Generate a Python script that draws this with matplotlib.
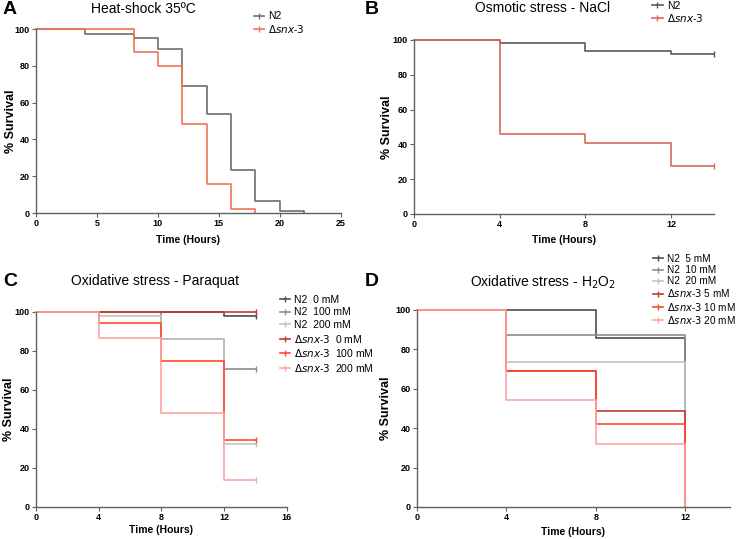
import matplotlib.pyplot as plt

plt.rcParams['font.family'] = ['Liberation Sans', 'DejaVu Sans']

# ---- data ----
# A: heat shock
a_n2_t = [0, 4, 8, 10, 12, 14, 16, 18, 20, 22]
a_n2_s = [100, 97.6, 95, 89.2, 69, 54, 23.2, 6.8, 1.1, 0]
a_snx_t = [0, 8, 10, 12, 14, 16, 18]
a_snx_s = [100, 87.7, 80, 48.6, 15.7, 2.2, 0]

# B: osmotic stress
b_n2_t = [0, 4, 8, 12, 14]
b_n2_s = [100, 98.3, 93.7, 92.2, 92.2]
b_snx_t = [0, 4, 8, 12, 14]
b_snx_s = [100, 45.7, 41, 27.8, 27.8]

# C: paraquat
c_labels = ['N2  0 mM', 'N2  100 mM', 'N2  200 mM',
            r'$\Delta\mathit{snx}$-$\mathit{3}$  0 mM',
            r'$\Delta\mathit{snx}$-$\mathit{3}$  100 mM',
            r'$\Delta\mathit{snx}$-$\mathit{3}$  200 mM']
c_t = [[0, 12, 14], [0, 8, 12, 14], [0, 4, 8, 12, 14],
       [0, 14], [0, 4, 8, 12, 14], [0, 4, 8, 12, 14]]
c_s = [[100, 98.1, 98.1], [100, 86.3, 70.9, 70.9], [100, 98, 86.3, 32.5, 32.5],
       [100, 100], [100, 94.4, 75, 34.5, 34.5], [100, 86.5, 48.2, 13.7, 13.7]]

# D: H2O2
d_labels = ['N2  5 mM', 'N2  10 mM', 'N2  20 mM',
            r'$\Delta\mathit{snx}$-$\mathit{3}$ 5 mM',
            r'$\Delta\mathit{snx}$-$\mathit{3}$ 10 mM',
            r'$\Delta\mathit{snx}$-$\mathit{3}$ 20 mM']
d_t = [[0, 8, 12], [0, 4, 12], [0, 4, 12],
       [0, 4, 8, 12], [0, 4, 8, 12], [0, 4, 8, 12]]
d_s = [[100, 85.8, 0], [100, 87.1, 0], [100, 73.6, 0],
       [100, 69, 48.9, 0], [100, 69, 42.1, 0], [100, 54.1, 32.1, 0]]

six_colors = ['#4d4d4d', '#8c8c8c', '#c4c4c4', '#c0392b', '#ff4a2a', '#ffa3a0']

snx_label = r'$\Delta\mathit{snx}$-$\mathit{3}$'


def style_axes(ax, xmax, xticks, ylab_x, xlab_y):
    ax.set_xlim(0, xmax)
    ax.set_ylim(0, 100)
    ax.set_xticks(xticks)
    ax.set_yticks([0, 20, 40, 60, 80, 100])
    for s in ['top', 'right']:
        ax.spines[s].set_visible(False)
    for s in ['left', 'bottom']:
        ax.spines[s].set_color('#606060')
        ax.spines[s].set_linewidth(1.0)
    ax.tick_params(length=3, width=0.8, color='#606060', labelsize=6.5, pad=1.5)
    for lab in ax.get_xticklabels() + ax.get_yticklabels():
        lab.set_fontweight('bold')
    ax.set_xlabel('Time (Hours)', fontsize=7.5, fontweight='bold')
    ax.set_ylabel('% Survival', fontsize=9, fontweight='bold')
    ax.yaxis.set_label_coords(ylab_x, 0.5)
    ax.xaxis.set_label_coords(0.5, xlab_y)


def draw(ax, t, s, color, label, censor):
    kw = dict(where='post', color=color, lw=1.2, label=label, clip_on=False,
              marker='|', markersize=5)
    kw['markevery'] = [len(t) - 1] if censor else []
    ax.step(t, s, **kw)


def legend(ax, x, y, spacing, size=7.5):
    ax.legend(loc='upper left', bbox_to_anchor=(x, y), frameon=False,
              fontsize=size, handlelength=1.0, handletextpad=0.4,
              labelspacing=spacing, borderaxespad=0)


fig = plt.figure(figsize=(7.38, 5.39), dpi=100)

axA = fig.add_axes([0.0488, 0.6048, 0.413, 0.341])
axB = fig.add_axes([0.561, 0.603, 0.4065, 0.3228])
axC = fig.add_axes([0.0488, 0.0594, 0.340, 0.3618])
axD = fig.add_axes([0.565, 0.0594, 0.424, 0.3655])

# A
draw(axA, a_n2_t, a_n2_s, '#6e6e6e', 'N2', False)
draw(axA, a_snx_t, a_snx_s, '#f47356', snx_label, False)
style_axes(axA, 25, [0, 5, 10, 15, 20, 25], -0.062, -0.12)
legend(axA, 0.70, 1.12, 0.15)

# B
draw(axB, b_n2_t, b_n2_s, '#5a5a5a', 'N2', True)
draw(axB, b_snx_t, b_snx_s, '#d9695a', snx_label, True)
style_axes(axB, 14, [0, 4, 8, 12], -0.07, -0.121)
legend(axB, 0.78, 1.25, 0.1)

# C
for t, s, col, lab in zip(c_t, c_s, six_colors, c_labels):
    draw(axC, t, s, col, lab, True)
style_axes(axC, 16, [0, 4, 8, 12, 16], -0.084, -0.092)
legend(axC, 0.955, 1.11, 0.25)

# D
for t, s, col, lab in zip(d_t, d_s, six_colors, d_labels):
    draw(axD, t, s, col, lab, False)
style_axes(axD, 14, [0, 4, 8, 12], -0.08, -0.10)
legend(axD, 0.74, 1.305, 0.12, size=7.2)

# titles and panel letters
fig.text(143 / 738, 1 - 9 / 539, 'Heat-shock 35ºC', ha='center', va='center', fontsize=10)
fig.text(543 / 738, 1 - 8 / 539, 'Osmotic stress - NaCl', ha='center', va='center', fontsize=10)
fig.text(155 / 738, 1 - 281 / 539, 'Oxidative stress - Paraquat', ha='center', va='center', fontsize=10)
fig.text(543 / 738, 1 - 282 / 539, r'Oxidative stress - H$_2$O$_2$', ha='center', va='center', fontsize=10)

for x, y, letter in [(10, 10, 'A'), (372, 10, 'B'), (10, 281, 'C'), (372, 281, 'D')]:
    fig.text(x / 738, 1 - y / 539, letter, ha='center', va='center',
             fontsize=14, fontweight='bold')

fig.savefig('out.png', dpi=100)
